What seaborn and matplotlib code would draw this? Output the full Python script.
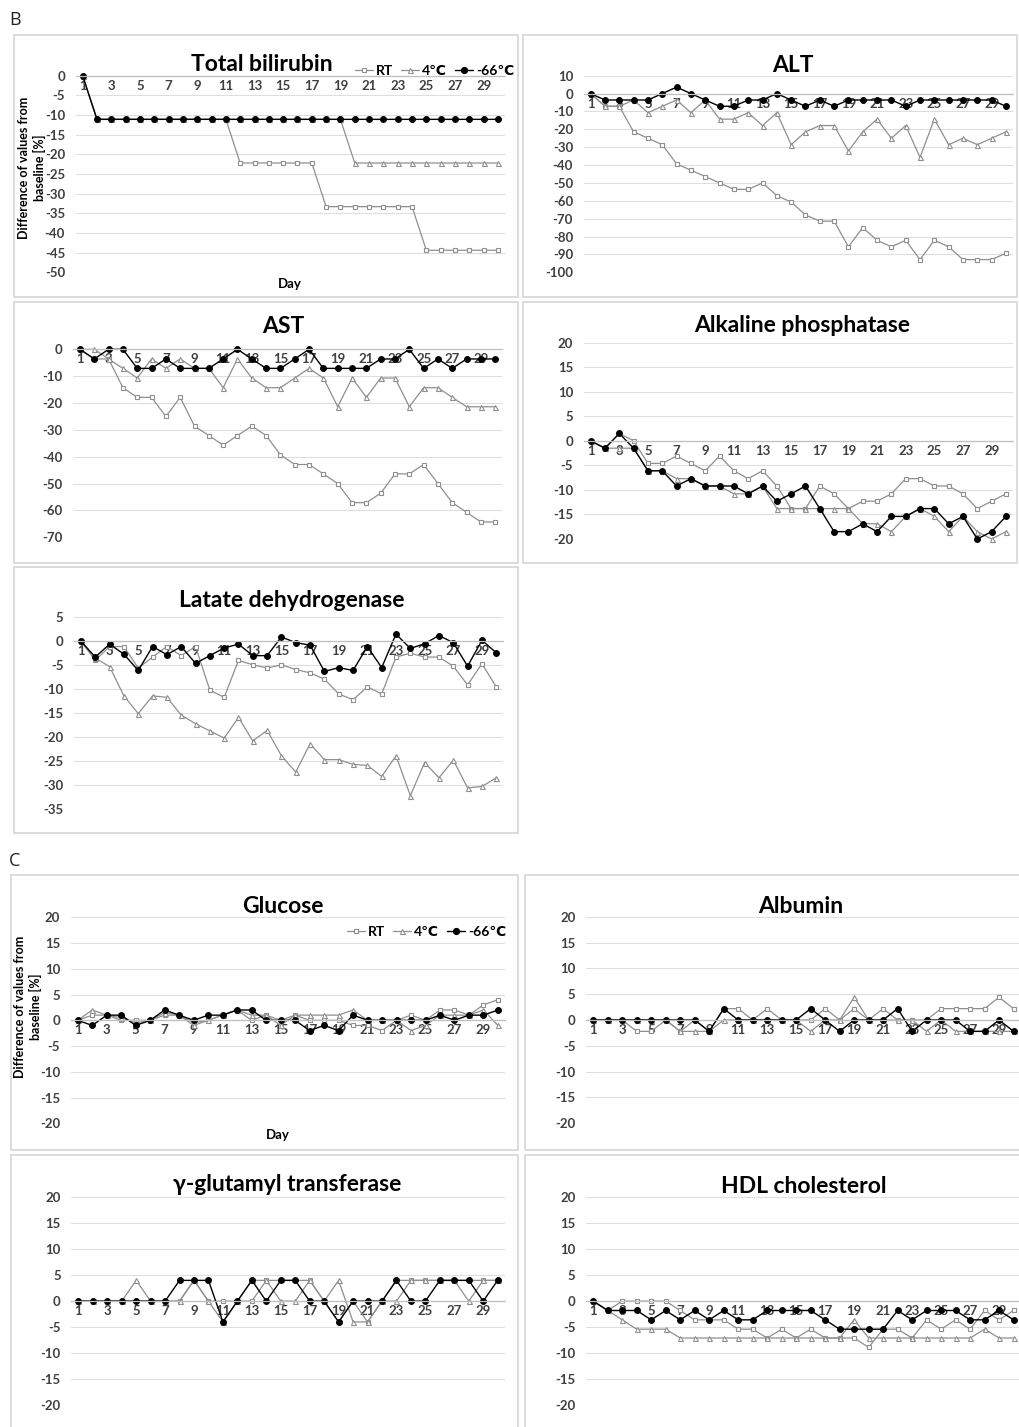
import matplotlib
matplotlib.use('Agg')
import matplotlib.pyplot as plt
from matplotlib.patches import Rectangle
from matplotlib.lines import Line2D
import seaborn as sns
import numpy as np

days = list(range(1, 31))
day_labels = [str(d) for d in range(1, 30, 2)]
series_names = ['RT', '4℃', '-66℃']

# B panels
bili_rt = [0, -11.1, -11.1, -11.1, -11.1, -11.1, -11.1, -11.1, -11.1, -11.1, -11.1, -22.2, -22.2, -22.2, -22.2,
           -22.2, -22.2, -33.3, -33.3, -33.3, -33.3, -33.3, -33.3, -33.3, -44.4, -44.4, -44.4, -44.4, -44.4, -44.4]
bili_4c = [0, -11.1, -11.1, -11.1, -11.1, -11.1, -11.1, -11.1, -11.1, -11.1, -11.1, -11.1, -11.1, -11.1, -11.1,
           -11.1, -11.1, -11.1, -11.1, -22.2, -22.2, -22.2, -22.2, -22.2, -22.2, -22.2, -22.2, -22.2, -22.2, -22.2]
bili_66 = [0, -11.1, -11.1, -11.1, -11.1, -11.1, -11.1, -11.1, -11.1, -11.1, -11.1, -11.1, -11.1, -11.1, -11.1,
           -11.1, -11.1, -11.1, -11.1, -11.1, -11.1, -11.1, -11.1, -11.1, -11.1, -11.1, -11.1, -11.1, -11.1, -11.1]

alt_rt = [0, -7.1, -7.1, -21.4, -25.0, -28.6, -39.3, -42.9, -46.4, -50.0, -53.6, -53.6, -50.0, -57.1, -60.7,
          -67.9, -71.4, -71.4, -85.7, -75.0, -82.1, -85.7, -82.1, -92.9, -82.1, -85.7, -92.9, -92.9, -92.9, -89.3]
alt_4c = [0, -7.1, -7.1, -3.6, -10.7, -7.1, -3.6, -10.7, -3.6, -14.3, -14.3, -10.7, -17.9, -10.7, -28.6,
          -21.4, -17.9, -17.9, -32.1, -21.4, -14.3, -25.0, -17.9, -35.7, -14.3, -28.6, -25.0, -28.6, -25.0, -21.4]
alt_66 = [0, -3.6, -3.6, -3.6, -3.6, 0, 3.6, 0, -3.6, -7.1, -7.1, -3.6, -3.6, 0, -3.6,
          -7.1, -3.6, -7.1, -3.6, -3.6, -3.6, -3.6, -7.1, -3.6, -3.6, -3.6, -3.6, -3.6, -3.6, -7.1]

ast_rt = [0, -3.6, -3.6, -14.3, -17.9, -17.9, -25.0, -17.9, -28.6, -32.1, -35.7, -32.1, -28.6, -32.1, -39.3,
          -42.9, -42.9, -46.4, -50.0, -57.1, -57.1, -53.6, -46.4, -46.4, -42.9, -50.0, -57.1, -60.7, -64.3, -64.3]
ast_4c = [0, 0, -3.6, -7.1, -10.7, -3.6, -7.1, -3.6, -7.1, -7.1, -14.3, -3.6, -10.7, -14.3, -14.3,
          -10.7, -7.1, -10.7, -21.4, -10.7, -17.9, -10.7, -10.7, -21.4, -14.3, -14.3, -17.9, -21.4, -21.4, -21.4]
ast_66 = [0, -3.6, 0, 0, -7.1, -7.1, -3.6, -7.1, -7.1, -7.1, -3.6, 0, -3.6, -7.1, -7.1,
          -3.6, 0, -7.1, -7.1, -7.1, -7.1, -3.6, -3.6, 0, -7.1, -3.6, -7.1, -3.6, -3.6, -3.6]

alp_rt = [0, -1.5, 1.5, 0, -4.6, -4.6, -3.1, -4.6, -6.1, -3.1, -6.1, -7.7, -6.1, -9.2, -13.8,
          -13.8, -9.2, -10.8, -13.8, -12.3, -12.3, -10.8, -7.7, -7.7, -9.2, -9.2, -10.8, -13.8, -12.3, -10.8]
alp_4c = [0, -1.5, -1.5, -1.5, -6.1, -6.1, -7.7, -7.7, -9.2, -9.2, -10.8, -10.8, -9.2, -13.8, -13.8,
          -13.8, -13.8, -13.8, -13.8, -16.9, -16.9, -18.5, -15.4, -13.8, -15.4, -18.5, -15.4, -18.5, -20.0, -18.5]
alp_66 = [0, -1.5, 1.5, -1.5, -6.1, -6.1, -9.2, -7.7, -9.2, -9.2, -9.2, -10.8, -9.2, -12.3, -10.8,
          -9.2, -13.8, -18.5, -18.5, -16.9, -18.5, -15.4, -15.4, -13.8, -13.8, -16.9, -15.4, -20.0, -18.5, -15.4]

ldh_rt = [0, -4.0, -1.1, -1.1, -5.6, -3.3, -1.1, -3.0, -1.1, -10.2, -11.7, -4.0, -4.9, -5.6, -4.9,
          -5.9, -6.6, -7.9, -11.0, -12.2, -9.5, -11.0, -3.3, -2.5, -3.3, -3.3, -5.2, -9.1, -4.7, -9.5]
ldh_4c = [0, -3.5, -5.3, -11.4, -15.1, -11.4, -11.7, -15.4, -17.2, -18.7, -20.2, -15.9, -20.8, -18.6, -23.9,
          -27.3, -21.4, -24.7, -24.7, -25.7, -25.9, -28.2, -23.9, -32.2, -25.3, -28.5, -24.8, -30.6, -30.3, -28.5]
ldh_66 = [0, -3.3, -0.6, -2.7, -6.1, -1.1, -2.8, -1.1, -4.6, -3.0, -1.4, -0.6, -3.0, -3.0, 0.9,
          -0.3, -0.8, -6.3, -5.5, -6.1, -1.1, -5.5, 1.5, -1.5, -0.5, 1.2, -0.3, -5.2, 0.2, -2.4]

# C panels
glu_rt = [0, 1, 1, 0, 0, 0, 1, 1, -0.5, 0, 1, 2, 0, 1, 0, 1, 0, 0, 0, -1, -1, -2, 0, 1, 0, 2, 2, 1, 3, 4]
glu_4c = [0, 2, 1, 0.5, -0.5, 0, 1.5, 1, -1, 0, 1, 2, 1, 1, -1, 1, 1, 1, 1, 2, 0, 0, 0, -2, -1, 1, 1, 1, 2, -1]
glu_66 = [0, -1, 1, 1, -1, 0, 2, 1, 0, 1, 1, 2, 2, 0, 0, 0, -2, -1, -2, 1, 0, 0, 0, 0, 0, 1, 0, 1, 1, 2]

alb_rt = [0, 0, 0, -2.2, -2.2, 0, -2.2, 0, -2.2, 2.2, 2.2, 0, 2.2, 0, 0,
          0, 2.2, 0, 2.2, 0, 2.2, 0, 0, 0, 2.2, 2.2, 2.2, 2.2, 4.4, 2.2]
alb_4c = [0, 0, 0, 0, 0, 0, -2.2, -2.2, -2.2, 0, 0, 0, 0, 0, 0,
          -2.2, 0, 0, 4.4, 0, 0, 0, 0, -2.2, 0, -2.2, -2.2, -2.2, -2.2, -2.2]
alb_66 = [0, 0, 0, 0, 0, 0, 0, 0, -2.2, 2.2, 0, 0, 0, 0, 0,
          2.2, 0, -2.2, 0, 0, 0, 2.2, -2.2, 0, 0, 0, -2.2, -2.2, 0, -2.2]

ggt_rt = [0, 0, 0, 0, 0, 0, 0, 0, 4, 0, 0, 0, 0, 4, 4, 4, 4, 0, -4, 0, -4, 0, 4, 4, 4, 4, 4, 4, 4, 4]
ggt_4c = [0, 0, 0, 0, 4, 0, 0, 0, 4, 0, -4, 0, 4, 4, 0, 0, 4, 0, 4, -4, -4, 0, 0, 4, 4, 4, 4, 0, 4, 4]
ggt_66 = [0, 0, 0, 0, 0, 0, 0, 4, 4, 4, -4, 0, 4, 0, 4, 4, 0, 0, -4, 0, 0, 0, 4, 0, 0, 4, 4, 4, 0, 4]

hdl_rt = [0, -1.8, 0, 0, 0, 0, -1.8, -3.6, -3.6, -3.6, -5.4, -5.4, -7.1, -5.4, -7.1,
          -5.4, -7.1, -7.1, -7.1, -8.9, -5.4, -5.4, -7.1, -3.6, -5.4, -3.6, -5.4, -1.8, -3.6, -1.8]
hdl_4c = [0, -1.8, -3.6, -5.4, -5.4, -5.4, -7.1, -7.1, -7.1, -7.1, -7.1, -7.1, -7.1, -7.1, -7.1,
          -7.1, -7.1, -7.1, -3.6, -7.1, -7.1, -7.1, -7.1, -7.1, -7.1, -7.1, -7.1, -5.4, -7.1, -7.1]
hdl_66 = [0, -1.8, -1.8, -1.8, -3.6, -1.8, -3.6, -1.8, -3.6, -1.8, -3.6, -3.6, -1.8, -1.8, -1.8,
          -1.8, -3.6, -5.4, -5.4, -5.4, -5.4, -1.8, -3.6, -1.8, -1.8, -1.8, -3.6, -3.6, -1.8, -3.6]

W, H = 1019, 1427
GRAY = '#8f8f8f'
TXT = '#404040'

sns.set_theme(style='white')
plt.rcParams['font.family'] = ['Lato', 'DejaVu Sans']
plt.rcParams['axes.unicode_minus'] = False

fig = plt.figure(figsize=(W / 100, H / 100), dpi=100)


def fx(px):
    return px / W


def fy(py):
    return 1 - py / H


def add_box(l, t, r, b):
    fig.patches.append(Rectangle((fx(l), fy(b)), fx(r) - fx(l), fy(t) - fy(b), transform=fig.transFigure,
                                 fill=False, edgecolor='#d9d9d9', lw=1.3))


def draw_panel(box, area, title, title_xy, rt, c4, c66, ylim, ystep):
    add_box(*box)
    l, t, r, b = area
    ax = fig.add_axes([fx(l), fy(b), fx(r) - fx(l), fy(t) - fy(b)])
    ax.set_facecolor('none')

    sns.lineplot(x=days, y=rt, ax=ax, color=GRAY, lw=0.9, marker='s', markersize=3.3,
                 markerfacecolor='white', markeredgecolor=GRAY, markeredgewidth=0.8, clip_on=False, legend=False)
    sns.lineplot(x=days, y=c4, ax=ax, color=GRAY, lw=0.9, marker='^', markersize=3.6,
                 markerfacecolor='white', markeredgecolor=GRAY, markeredgewidth=0.8, clip_on=False, legend=False)
    sns.lineplot(x=days, y=c66, ax=ax, color='black', lw=1.0, marker='o', markersize=4.2,
                 markerfacecolor='black', markeredgecolor='black', clip_on=False, legend=False)

    ax.set_xlim(0.5, 30.5)
    ax.set_ylim(*ylim)
    ax.set_yticks(np.arange(ylim[0], ylim[1] + 1, ystep))
    ax.set_xticks(range(1, 30, 2))
    ax.set_xticklabels(day_labels)
    ax.set_xticks(np.arange(0.5, 31, 1), minor=True)
    ax.set_xlabel('')
    ax.set_ylabel('')

    for s in ['left', 'right', 'top']:
        ax.spines[s].set_visible(False)
    ax.spines['bottom'].set_position(('data', 0))
    ax.spines['bottom'].set_color('#bfbfbf')
    ax.spines['bottom'].set_linewidth(0.9)

    ax.yaxis.grid(True, color='#dedede', lw=0.8)
    ax.xaxis.grid(False)
    ax.set_axisbelow(True)
    ax.tick_params(axis='x', which='major', length=0, pad=3, labelsize=9.5, labelcolor=TXT)
    ax.tick_params(axis='x', which='minor', length=4, direction='inout', color='#c8c8c8', width=0.8)
    ax.tick_params(axis='y', length=0, pad=7.5, labelsize=9.5, labelcolor=TXT)
    for lbl in ax.get_xticklabels() + ax.get_yticklabels():
        lbl.set_fontweight('bold')

    fig.text(fx(title_xy[0]), fy(title_xy[1]), title, ha='center', va='baseline',
             fontsize=16.5, fontweight='bold', color='black')
    return ax


def add_legend(right_x, center_y):
    handles = [
        Line2D([], [], color=GRAY, lw=0.9, marker='s', markersize=3.3, markerfacecolor='white',
               markeredgecolor=GRAY, markeredgewidth=0.8),
        Line2D([], [], color=GRAY, lw=0.9, marker='^', markersize=3.6, markerfacecolor='white',
               markeredgecolor=GRAY, markeredgewidth=0.8),
        Line2D([], [], color='black', lw=1.0, marker='o', markersize=4.2, markerfacecolor='black'),
    ]
    fig.legend(handles, series_names, loc='center right', bbox_to_anchor=(fx(right_x), fy(center_y)),
               ncol=3, frameon=False, prop={'weight': 'bold', 'size': 10}, handlelength=1.3,
               handletextpad=0.2, columnspacing=0.6, labelcolor='black', borderpad=0, borderaxespad=0)


def add_axis_titles(ylab_xy, day_xy):
    fig.text(fx(ylab_xy[0]), fy(ylab_xy[1]), 'Difference of values from\nbaseline [%]', rotation=90,
             ha='center', va='center', multialignment='center', fontsize=9, fontweight='bold',
             color='black', linespacing=1.25)
    fig.text(fx(day_xy[0]), fy(day_xy[1]), 'Day', ha='center', va='center', fontsize=9.5,
             fontweight='bold', color='black')


# section labels
fig.text(fx(9), fy(25), 'B', fontsize=13, color='#222222', family=['Open Sans', 'DejaVu Sans'])
fig.text(fx(9), fy(866), 'C', fontsize=13, color='#222222', family=['Open Sans', 'DejaVu Sans'])

draw_panel((14, 35, 518, 297), (75.5, 75.7, 505.1, 272.3), 'Total bilirubin', (262, 71),
           bili_rt, bili_4c, bili_66, (-50, 0), 5)
add_legend(514, 71)
add_axis_titles((32, 168), (290, 284))

draw_panel((523, 35, 1017, 297), (583.5, 75.7, 1013.1, 272.3), 'ALT', (793, 72),
           alt_rt, alt_4c, alt_66, (-100, 10), 10)
draw_panel((14, 302, 518, 563), (72.8, 349.3, 502.4, 537.3), 'AST', (283, 333),
           ast_rt, ast_4c, ast_66, (-70, 0), 10)
draw_panel((523, 302, 1017, 563), (583.5, 342.7, 1013.1, 539), 'Alkaline phosphatase', (802, 332),
           alp_rt, alp_4c, alp_66, (-20, 20), 5)
draw_panel((14, 567, 518, 833), (73.8, 617.3, 503.4, 809), 'Latate dehydrogenase', (292, 607),
           ldh_rt, ldh_4c, ldh_66, (-35, 5), 5)

draw_panel((11, 875, 518, 1150), (70.5, 917.3, 505.2, 1123.3), 'Glucose', (283, 913),
           glu_rt, glu_4c, glu_66, (-20, 20), 5)
add_legend(506, 932)
add_axis_titles((28, 1007), (278, 1135))

draw_panel((525, 875, 1030, 1150), (586, 916.7, 1020.8, 1123.3), 'Albumin', (801, 913),
           alb_rt, alb_4c, alb_66, (-20, 20), 5)
draw_panel((11, 1155, 518, 1445), (71.1, 1197.3, 504.9, 1405), 'γ-glutamyl transferase', (287, 1191),
           ggt_rt, ggt_4c, ggt_66, (-20, 20), 5)
draw_panel((525, 1155, 1030, 1445), (586, 1197.3, 1020.8, 1405), 'HDL cholesterol', (804, 1193),
           hdl_rt, hdl_4c, hdl_66, (-20, 20), 5)

fig.savefig('out.png', dpi=100, facecolor='white')
